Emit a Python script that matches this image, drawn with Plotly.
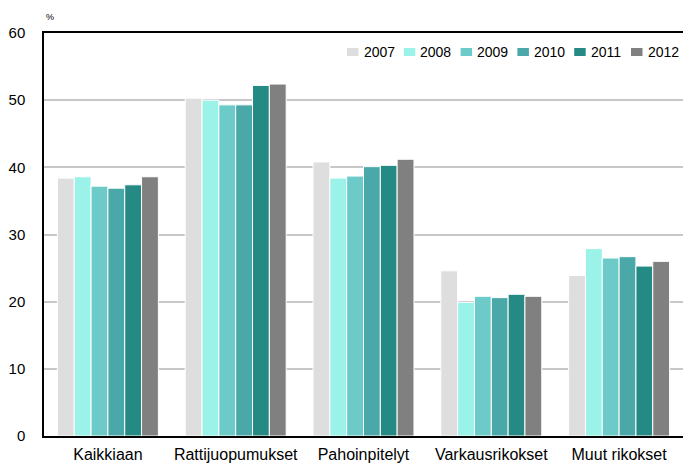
import plotly.graph_objects as go

categories = ["Kaikkiaan", "Rattijuopumukset", "Pahoinpitelyt", "Varkausrikokset", "Muut rikokset"]
years = ["2007", "2008", "2009", "2010", "2011", "2012"]
values = {
    "2007": [38.4, 50.3, 40.8, 24.6, 23.9],
    "2008": [38.6, 50.0, 38.4, 19.9, 27.9],
    "2009": [37.2, 49.3, 38.7, 20.8, 26.5],
    "2010": [36.9, 49.3, 40.1, 20.6, 26.7],
    "2011": [37.4, 52.2, 40.3, 21.1, 25.3],
    "2012": [38.6, 52.4, 41.2, 20.8, 26.0],
}
colors = ["#dedede", "#9af2e8", "#6ccac8", "#4aa8a8", "#268a84", "#808080"]
y_ticks = [0, 10, 20, 30, 40, 50, 60]

W, H = 683, 464
ML, MR, MT, MB = 44, 0, 33, 28
PW, PH = W - ML - MR, H - MT - MB

def px_x(p):
    return (p - ML) / PW

def px_y(p):
    return (H - MB - p) / PH

fig = go.Figure()
for yr, col in zip(years, colors):
    fig.add_trace(go.Bar(
        name=yr, x=categories, y=values[yr],
        marker=dict(color=col, line=dict(color="white", width=1)),
    ))

# Legend drawn as swatches + labels (compact, like the original)
shapes, annotations = [], []
leg_x0, leg_step, leg_yc = 347, 56.8, 52
for i, (yr, col) in enumerate(zip(years, colors)):
    x0 = leg_x0 + i * leg_step
    shapes.append(dict(type="rect", xref="paper", yref="paper",
                       x0=px_x(x0), x1=px_x(x0 + 11.5), y0=px_y(leg_yc + 4), y1=px_y(leg_yc - 4),
                       fillcolor=col, line=dict(width=0), layer="above"))
    annotations.append(dict(text=yr, xref="paper", yref="paper", x=px_x(x0 + 14.5), y=px_y(leg_yc),
                            xanchor="left", yanchor="middle", showarrow=False,
                            font=dict(size=14, color="#000")))

annotations.append(dict(text="%", xref="paper", yref="paper", x=px_x(50), y=1.0, yshift=16,
                        xanchor="center", yanchor="middle", showarrow=False,
                        font=dict(size=9, color="#000")))

fig.update_layout(
    width=W, height=H,
    margin=dict(l=ML, r=MR, t=MT, b=MB),
    paper_bgcolor="white", plot_bgcolor="white",
    barmode="group", bargap=0.21, bargroupgap=0,
    font=dict(family="Liberation Sans, Arial", size=14, color="#000"),
    showlegend=False,
    xaxis=dict(showline=True, linecolor="black", linewidth=1.5, mirror=True,
               ticks="", tickfont=dict(size=16), ticklabelstandoff=3),
    yaxis=dict(range=[0, 60], tickvals=y_ticks, showline=True, linecolor="black", linewidth=1.5,
               mirror=False, showgrid=True, gridcolor="#c8c8c8", gridwidth=1.5, ticks="",
               tickfont=dict(size=15), zeroline=False, ticklabelstandoff=14),
    shapes=shapes,
    annotations=annotations,
)

fig.write_html("out.html", config={"displayModeBar": False},
               post_script="document.body.style.margin='0';document.body.style.overflow='hidden';")
